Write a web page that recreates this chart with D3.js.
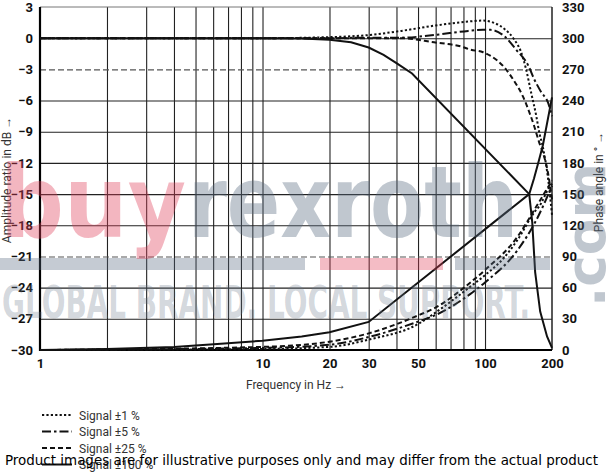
<!DOCTYPE html>
<html>
<head>
<meta charset="utf-8">
<script src="https://cdn.jsdelivr.net/npm/d3@7"></script>
<style>
body { margin: 0; background: #fff; }
svg { display: block; }
</style>
</head>
<body>
<div id="chart"></div>
<script>
// values
var gridFreqs = [2, 3, 4, 5, 6, 7, 8, 9, 10, 20, 30, 40, 50, 60, 70, 80, 90, 100];
var freqLabels = [1, 10, 20, 30, 50, 100, 200];
var ampTicks = [3, 0, -3, -6, -9, -12, -15, -18, -21, -24, -27, -30];
var phaseTicks = [0, 30, 60, 90, 120, 150, 180, 210, 240, 270, 300, 330];
var dashedGrid = [-3, -21];
var seriesNames = ["Signal \u00b11 %", "Signal \u00b15 %", "Signal \u00b125 %", "Signal \u00b1100 %"];

// amplitude (dB)
var ampF1 = [1, 10, 20, 30, 42, 59, 84, 98, 109, 122, 135, 145, 153, 161, 170, 175, 182, 192, 200];
var amp1  = [0, 0, 0.1, 0.3, 0.7, 1.2, 1.6, 1.7, 1.5, 0.9, -0.1, -1.3, -3, -5.2, -7.5, -9, -10.5, -13.5, -17];
var ampF5 = [1, 10, 20, 30, 42, 59, 84, 98, 106, 122, 138, 157, 166, 179, 192, 200];
var amp5  = [0, 0, 0, 0.05, 0.05, 0.3, 0.7, 0.8, 0.8, 0.2, -1.1, -2.7, -3.9, -5.2, -6.2, -7.5];
var ampF25 = [1, 10, 20, 30, 42, 59, 78, 86, 98, 106, 122, 135, 148, 158, 166, 175, 182, 192, 200];
var amp25  = [0, 0, 0, 0, 0, -0.4, -0.8, -1.1, -1.35, -1.7, -2.8, -4.1, -5.6, -7.1, -8.4, -10, -11, -13, -15.5];
var ampF100 = [1, 10, 15, 20, 25, 30, 35, 40, 47, 158, 163, 168, 177, 190, 200];
var amp100  = [0, 0, -0.02, -0.15, -0.4, -0.9, -1.6, -2.4, -3.4, -15, -17.7, -22.5, -26.3, -28.7, -29.8];

// phase (degrees)
var phF1 = [1, 10, 20, 30, 51, 59, 86, 100, 122, 140, 170, 175, 195, 200];
var ph1  = [0, 1, 3, 10, 26, 35, 61, 72, 89, 106, 135, 138, 157, 160];
var phF5 = [1, 10, 20, 30, 51, 59, 86, 100, 140, 170, 200];
var ph5  = [0, 2, 5, 12.5, 28, 33, 54, 65, 96, 125, 158];
var phF25 = [1, 10, 20, 30, 51, 59, 86, 100, 140, 170, 200];
var ph25  = [0, 3, 8, 16, 34, 40, 65, 77, 109, 138, 163];
var phF100 = [1, 2, 4, 6.5, 10, 15, 20, 30, 158, 166, 175, 182, 200];
var ph100  = [0, 1, 3, 6, 9, 13, 17, 27, 150, 165, 183, 197, 243];

var W = 607, H = 473;
var pL = 40, pR = 552, pT = 7, pB = 350;
var tickFont = "Roboto, 'Liberation Sans', sans-serif";

var x = d3.scaleLog().domain([1, 200]).range([pL, pR]);
var yA = d3.scaleLinear().domain([-30, 3]).range([pB, pT]);
var yP = d3.scaleLinear().domain([0, 330]).range([pB, pT]);

var svg = d3.select('#chart').append('svg')
 .attr('width', W).attr('height', H)
 .style('background-color', '#fff');

// vertical grid
svg.append('g')
 .attr('transform', 'translate(0,' + pB + ')')
 .call(d3.axisBottom(x).tickValues(gridFreqs).tickSize(-(pB - pT)).tickFormat(''))
 .call(function(g) { g.select('.domain').remove(); })
 .selectAll('line').attr('stroke', '#222').attr('stroke-width', 1.1);

// horizontal grid
var hg = svg.append('g')
 .attr('transform', 'translate(' + pL + ',0)')
 .call(d3.axisLeft(yA).tickValues(d3.range(-27, 1, 3)).tickSize(-(pR - pL)).tickFormat(''));
hg.select('.domain').remove();
hg.selectAll('.tick line')
 .attr('stroke', function(d) { return dashedGrid.indexOf(d) >= 0 ? '#555' : '#222'; })
 .attr('stroke-width', 1.1)
 .attr('stroke-dasharray', function(d) { return dashedGrid.indexOf(d) >= 0 ? '6,3' : null; });

// frame
svg.append('line').attr('x1', pL).attr('x2', pR).attr('y1', pT).attr('y2', pT)
 .attr('stroke', '#777').attr('stroke-width', 1);
svg.append('line').attr('x1', pR).attr('x2', pR).attr('y1', pT).attr('y2', pB)
 .attr('stroke', '#222').attr('stroke-width', 1.5);
svg.append('line').attr('x1', pL).attr('x2', pL).attr('y1', pT).attr('y2', pB + 1)
 .attr('stroke', '#000').attr('stroke-width', 2.2);
svg.append('line').attr('x1', pL - 1).attr('x2', pR).attr('y1', pB).attr('y2', pB)
 .attr('stroke', '#000').attr('stroke-width', 2.2);

// tick labels
var la = svg.append('g').attr('transform', 'translate(' + pL + ',0)')
 .call(d3.axisLeft(yA).tickValues(ampTicks).tickSize(0).tickPadding(7));
var lb = svg.append('g').attr('transform', 'translate(0,' + pB + ')')
 .call(d3.axisBottom(x).tickValues(freqLabels).tickSize(0).tickPadding(9).tickFormat(d3.format('d')));
var lr = svg.append('g').attr('transform', 'translate(' + pR + ',0)')
 .call(d3.axisRight(yP).tickValues(phaseTicks).tickSize(0).tickPadding(10));
[la, lb, lr].forEach(function(g) {
 g.select('.domain').remove();
 g.selectAll('text')
  .style('font-family', tickFont)
  .style('font-weight', 'bold')
  .style('font-size', '13px')
  .attr('fill', '#111');
});

// axis titles
svg.append('text')
 .attr('transform', 'translate(11,180) rotate(-90)')
 .attr('text-anchor', 'middle')
 .style('font-family', tickFont).style('font-size', '12px').attr('fill', '#333')
 .text('Amplitude ratio in dB \u2192');
svg.append('text')
 .attr('transform', 'translate(603,182) rotate(-90)')
 .attr('text-anchor', 'middle')
 .style('font-family', tickFont).style('font-size', '12px').attr('fill', '#333')
 .text('Phase angle in \u00b0 \u2192');
svg.append('text')
 .attr('x', 296).attr('y', 389)
 .attr('text-anchor', 'middle')
 .style('font-family', tickFont).style('font-size', '12px').attr('fill', '#333')
 .text('Frequency in Hz \u2192');

// curves
var dashes = ['2.2,2.2', '9,3,2.5,3', '5,3', null];
function zip(f, v) { return f.map(function(d, i) { return {f: d, v: v[i]}; }); }
var ampSets = [zip(ampF1, amp1), zip(ampF5, amp5), zip(ampF25, amp25), zip(ampF100, amp100)];
var phSets = [zip(phF1, ph1), zip(phF5, ph5), zip(phF25, ph25), zip(phF100, ph100)];

var curves = svg.append('g').attr('fill', 'none').attr('stroke', '#111').attr('stroke-width', 2);
ampSets.forEach(function(data, i) {
 var line = d3.line()
  .x(function(d) { return x(d.f); })
  .y(function(d) { return yA(d.v); })
  .curve(i == 3 ? d3.curveLinear : d3.curveMonotoneX);
 curves.append('path').datum(data).attr('d', line).attr('stroke-dasharray', dashes[i]);
});
phSets.forEach(function(data, i) {
 var line = d3.line()
  .x(function(d) { return x(d.f); })
  .y(function(d) { return yP(d.v); })
  .curve(i == 3 ? d3.curveLinear : d3.curveMonotoneX);
 curves.append('path').datum(data).attr('d', line).attr('stroke-dasharray', dashes[i]);
});

// legend
var leg = svg.append('g').attr('transform', 'translate(42,415)');
seriesNames.forEach(function(name, i) {
 var row = leg.append('g').attr('transform', 'translate(0,' + (i * 16.5) + ')');
 row.append('line').attr('x1', 0).attr('x2', 30).attr('y1', 0).attr('y2', 0)
  .attr('stroke', '#111').attr('stroke-width', 2).attr('stroke-dasharray', dashes[i]);
 row.append('text').attr('x', 37).attr('y', 4.5)
  .style('font-family', tickFont).style('font-size', '12px').attr('fill', '#333')
  .text(name);
});

// watermark
var wm = svg.append('g').style('font-family', 'DejaVu Sans, sans-serif').style('font-weight', 'bold');
wm.append('rect').attr('x', 0).attr('y', 258).attr('width', 305).attr('height', 12).attr('fill', '#5a6b80').attr('fill-opacity', 0.35);
wm.append('rect').attr('x', 320).attr('y', 258).attr('width', 123).attr('height', 12).attr('fill', '#e0405a').attr('fill-opacity', 0.35);
wm.append('rect').attr('x', 455).attr('y', 258).attr('width', 95).attr('height', 12).attr('fill', '#5a6b80').attr('fill-opacity', 0.35);
wm.append('text').attr('x', 0).attr('y', 237).attr('textLength', 186).attr('lengthAdjust', 'spacingAndGlyphs')
 .style('font-size', '100px').attr('fill', '#e0405a').attr('fill-opacity', 0.38).text('buy');
wm.append('text').attr('x', 188).attr('y', 237).attr('textLength', 330).attr('lengthAdjust', 'spacingAndGlyphs')
 .style('font-size', '100px').attr('fill', '#5a6b80').attr('fill-opacity', 0.38).text('rexroth');
wm.append('text').attr('x', 2).attr('y', 318).attr('textLength', 528).attr('lengthAdjust', 'spacingAndGlyphs')
 .style('font-size', '44px').attr('fill', '#6a7a8c').attr('fill-opacity', 0.3).text('GLOBAL BRAND. LOCAL SUPPORT.');
wm.append('text').attr('transform', 'translate(605,307) rotate(-90)').attr('textLength', 144).attr('lengthAdjust', 'spacingAndGlyphs')
 .style('font-size', '56px').attr('fill', '#5a6b80').attr('fill-opacity', 0.38).text('.com');

// footer note
svg.append('text').attr('x', 5).attr('y', 465).attr('textLength', 593).attr('lengthAdjust', 'spacingAndGlyphs')
 .style('font-family', 'DejaVu Sans, sans-serif').style('font-size', '13.5px').attr('fill', '#000')
 .text('Product images are for illustrative purposes only and may differ from the actual product');
</script>
</body>
</html>
